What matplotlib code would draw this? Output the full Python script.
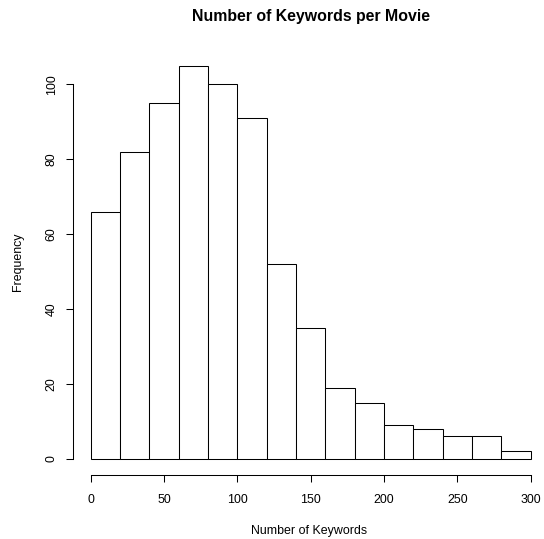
import matplotlib
matplotlib.use("Agg")
import matplotlib.pyplot as plt
import numpy as np

# histogram bins (keywords per movie) and counts
bin_edges = [0, 20, 40, 60, 80, 100, 120, 140, 160, 180, 200, 220, 240, 260, 280, 300]
counts = [66, 82, 95, 105, 100, 91, 52, 35, 19, 15, 9, 8, 6, 6, 2]
x_ticks = [0, 50, 100, 150, 200, 250, 300]
y_ticks = [0, 20, 40, 60, 80, 100]

plt.rcParams["font.family"] = ["Liberation Sans", "DejaVu Sans"]

W, H, DPI = 544, 539, 100
fig = plt.figure(figsize=(W / DPI, H / DPI), dpi=DPI)

# plot region in pixels (R-style 4% axis extension)
left, right = 73, 548.3
top, bottom = 49.8, 474.7
ax = fig.add_axes([left / W, 1 - bottom / H, (right - left) / W, (bottom - top) / H])

edges = np.array(bin_edges)
widths = np.diff(edges)
ax.bar(edges[:-1], counts, width=widths, align="edge",
       facecolor="white", edgecolor="black", linewidth=0.75)

ax.set_xlim(-12, 312)
ax.set_ylim(-4.2, 109.2)

for side in ("top", "right"):
    ax.spines[side].set_visible(False)
ax.spines["left"].set_bounds(0, 100)
ax.spines["bottom"].set_bounds(0, 300)
for side in ("left", "bottom"):
    ax.spines[side].set_linewidth(0.75)

ax.set_xticks(x_ticks)
ax.set_yticks(y_ticks)
ax.set_yticklabels([str(v) for v in y_ticks], rotation=90, va="center")
ax.tick_params(axis="both", length=5, width=0.75, labelsize=8.95)
ax.tick_params(axis="x", pad=9)
ax.tick_params(axis="y", pad=6)

fig.text(310.7 / W, 1 - 17 / H, "Number of Keywords per Movie",
         ha="center", va="center", fontsize=11.4, fontweight="bold")
fig.text(309 / W, 1 - 531 / H, "Number of Keywords",
         ha="center", va="center", fontsize=8.95)
fig.text(18.3 / W, 1 - 262 / H, "Frequency", rotation=90,
         ha="center", va="center", fontsize=8.95)

fig.savefig("out.png", dpi=DPI)
